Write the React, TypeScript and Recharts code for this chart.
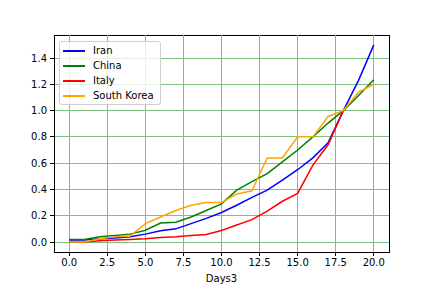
import React from 'react';
import { LineChart, Line, XAxis, YAxis, CartesianGrid, ReferenceArea, ReferenceLine } from 'recharts';

const days = [0, 1, 2, 3, 4, 5, 6, 7, 8, 9, 10, 11, 12, 13, 14, 15, 16, 17, 18, 19, 20];
const iran = [0.015, 0.015, 0.025, 0.03, 0.04, 0.06, 0.085, 0.1, 0.14, 0.18, 0.225, 0.28, 0.34, 0.395, 0.47, 0.55, 0.64, 0.755, 1.0, 1.23, 1.5];
const china = [0.02, 0.02, 0.04, 0.05, 0.06, 0.09, 0.145, 0.15, 0.19, 0.24, 0.29, 0.395, 0.46, 0.52, 0.61, 0.7, 0.8, 0.905, 1.0, 1.115, 1.235];
const italy: (number | null)[] = [0, 0, 0.01, 0.015, 0.02, 0.025, 0.035, 0.04, 0.05, 0.058, 0.087, 0.13, 0.17, 0.235, 0.31, 0.37, 0.585, 0.74, 1.0, null, null];
const southKorea = [0, 0, 0.025, 0.04, 0.045, 0.14, 0.19, 0.24, 0.28, 0.3, 0.3, 0.365, 0.39, 0.64, 0.64, 0.8, 0.8, 0.955, 1.0, 1.14, 1.2];

const xTicks = [0, 2.5, 5, 7.5, 10, 12.5, 15, 17.5, 20];
const yTicks = [0, 0.2, 0.4, 0.6, 0.8, 1.0, 1.2, 1.4];

const series = [
  { key: 'Iran', color: '#0000ff' },
  { key: 'China', color: '#008000' },
  { key: 'Italy', color: '#ff0000' },
  { key: 'South Korea', color: '#ffa500' },
];

const data = days.map((d, i) => ({
  day: d,
  Iran: iran[i],
  China: china[i],
  Italy: italy[i],
  'South Korea': southKorea[i],
}));

const FONT = 'DejaVu Sans, sans-serif';
const GRID = '#7fbf7f';

const css = `
.recharts-cartesian-grid line,
.recharts-reference-line line,
.recharts-cartesian-axis line,
.recharts-reference-area path { shape-rendering: crispEdges; }
`;

const LegendBox = () => (
  <div
    style={{
      position: 'absolute',
      left: 59,
      top: 41,
      border: '1px solid #d0d0d0',
      borderRadius: 3,
      background: 'rgba(255,255,255,0.8)',
      padding: '1px 6px 1px 2px',
      fontFamily: FONT,
      fontSize: 10,
      color: '#000',
    }}
  >
    {series.map((s) => (
      <div key={s.key} style={{ display: 'flex', alignItems: 'center', height: 15 }}>
        <div style={{ width: 22, height: 2, background: s.color, margin: '0 8px 0 1px' }} />
        <span>{s.key}</span>
      </div>
    ))}
  </div>
);

export default function App() {
  return (
    <div style={{ position: 'absolute', left: 0, top: 0, width: 432, height: 288, background: '#fff' }}>
      <style>{css}</style>
      <LineChart width={432} height={288} data={data} margin={{ top: 35, right: 43, left: 0, bottom: 0 }}>
        <CartesianGrid stroke={GRID} vertical={false} />
        {xTicks.map((t) => (
          <ReferenceLine key={t} x={t} stroke={GRID} strokeWidth={1} />
        ))}
        <XAxis
          dataKey="day"
          type="number"
          domain={[-1, 21]}
          ticks={xTicks}
          tickFormatter={(v: number) => v.toFixed(1)}
          height={36}
          tickSize={4}
          tickMargin={3}
          stroke="#000"
          tick={{ fill: '#000', fontSize: 10, fontFamily: FONT }}
          allowDataOverflow
          label={{ value: 'Days3', position: 'insideBottom', offset: 6, fill: '#000', fontSize: 10, fontFamily: FONT }}
        />
        <YAxis
          type="number"
          domain={[-0.076, 1.575]}
          ticks={yTicks}
          tickFormatter={(v: number) => v.toFixed(1)}
          width={54}
          tickSize={4}
          tickMargin={3}
          stroke="#000"
          tick={{ fill: '#000', fontSize: 10, fontFamily: FONT }}
          allowDataOverflow
        />
        <ReferenceArea x1={-1} x2={21} y1={-0.076} y2={1.575} fill="none" stroke="#000" strokeWidth={1} ifOverflow="visible" />
        {series.map((s) => (
          <Line
            key={s.key}
            type="linear"
            dataKey={s.key}
            stroke={s.color}
            strokeWidth={1.5}
            dot={false}
            activeDot={false}
            isAnimationActive={false}
          />
        ))}
      </LineChart>
      <LegendBox />
    </div>
  );
}
